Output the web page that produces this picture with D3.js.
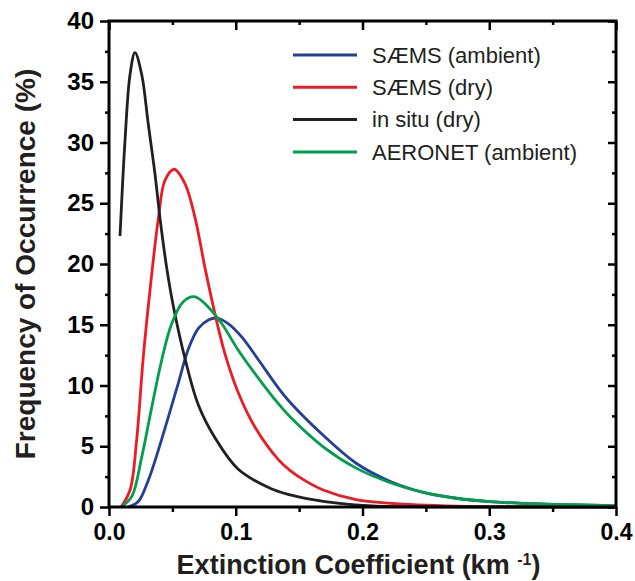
<meta charset="utf-8">
<style>
body { margin: 0; background: #fff; }
text { font-family: "Liberation Sans", Arial, sans-serif; fill: #231f20; }
.curve { fill: none; stroke-width: 2.8px; stroke-linejoin: round; }
</style>
<body>
<script src="https://d3js.org/d3.v7.js"></script>
<script>
// values
var seriesNames = ["SÆMS (ambient)", "SÆMS (dry)", "in situ (dry)", "AERONET (ambient)"];
var seriesColors = ["#233f99", "#ed1c24", "#231f20", "#00a04b"];

var blueX = [0.015, 0.0231, 0.031, 0.039, 0.0468, 0.0547, 0.0626, 0.0705, 0.0784, 0.085, 0.094, 0.1047, 0.118, 0.1336, 0.143, 0.169, 0.195, 0.222, 0.248, 0.274, 0.30, 0.34, 0.4];
var blueY = [0, 0.45, 2.2, 4.7, 7.4, 10.2, 13.0, 14.7, 15.4, 15.55, 15.1, 14.0, 12.1, 9.8, 8.6, 5.9, 3.6, 2.1, 1.2, 0.72, 0.45, 0.25, 0.1];

var redX = [0.0095, 0.0166, 0.0218, 0.027, 0.0323, 0.039, 0.0442, 0.0515, 0.060, 0.0679, 0.0757, 0.0836, 0.0915, 0.102, 0.115, 0.1336, 0.143, 0.155, 0.169, 0.195, 0.222, 0.274, 0.33, 0.4];
var redY = [0, 1.4, 5.5, 12.3, 17.8, 23.8, 26.9, 27.8, 26.6, 23.8, 19.7, 15.9, 12.6, 9.4, 6.6, 3.9, 3.0, 2.15, 1.4, 0.6, 0.3, 0.08, 0.02, 0];

var blackX = [0.0087, 0.0126, 0.0166, 0.0205, 0.0258, 0.031, 0.0363, 0.0402, 0.0455, 0.0508, 0.060, 0.0705, 0.0836, 0.102, 0.128, 0.143, 0.155, 0.182, 0.208, 0.25, 0.3, 0.4];
var blackY = [22.3, 30.1, 35.6, 37.4, 35.6, 31.5, 27.4, 23.8, 19.7, 16.5, 12.2, 8.4, 5.7, 3.1, 1.5, 1.0, 0.72, 0.3, 0.1, 0.02, 0, 0];

var greenX = [0.0095, 0.0179, 0.0258, 0.0337, 0.0416, 0.0495, 0.0586, 0.0679, 0.0784, 0.0889, 0.102, 0.115, 0.1336, 0.143, 0.169, 0.195, 0.222, 0.248, 0.274, 0.30, 0.34, 0.4];
var greenY = [0, 0.85, 4.1, 8.2, 12.1, 15.1, 16.9, 17.3, 16.45, 15.1, 12.9, 11.0, 8.5, 7.4, 4.95, 3.2, 2.0, 1.2, 0.72, 0.45, 0.25, 0.1];

var xMajor = [0, 0.1, 0.2, 0.3, 0.4];
var xMinor = [0.05, 0.15, 0.25, 0.35];
var yMajor = [0, 5, 10, 15, 20, 25, 30, 35, 40];
var yMinor = [2.5, 7.5, 12.5, 17.5, 22.5, 27.5, 32.5, 37.5];

var W = 635, H = 581;
var m = {left: 109, right: 616, top: 21, bottom: 507};

var svg = d3.select("body").append("svg")
    .attr("width", W)
    .attr("height", H);

var x = d3.scaleLinear().domain([0, 0.4]).range([m.left, m.right]);
var y = d3.scaleLinear().domain([0, 40]).range([m.bottom, m.top]);

var seriesData = [
  d3.zip(blueX, blueY),
  d3.zip(redX, redY),
  d3.zip(blackX, blackY),
  d3.zip(greenX, greenY)
];

var line = d3.line()
    .x(function(d) { return x(d[0]); })
    .y(function(d) { return y(d[1]); })
    .curve(d3.curveCatmullRom.alpha(0.5));

// draw order: blue, red, black, green
[0, 1, 2, 3].forEach(function(i) {
  svg.append("path")
      .datum(seriesData[i])
      .attr("class", "curve")
      .style("stroke", seriesColors[i])
      .attr("d", line);
});

// axes: major + minor ticks, outward on left/bottom, inward on top/right
function tickStyle(g) {
  g.select(".domain").remove();
  g.selectAll(".tick line").attr("stroke", "#000").attr("stroke-width", 2.5);
}

svg.append("g")
    .attr("transform", "translate(0," + m.bottom + ")")
    .call(d3.axisBottom(x).tickValues(xMajor).tickSize(9).tickPadding(8).tickFormat(d3.format(".1f")))
    .call(tickStyle)
    .selectAll("text")
      .style("font-size", "23px").style("font-weight", "bold").style("fill", "#000");

svg.append("g")
    .attr("transform", "translate(0," + m.bottom + ")")
    .call(d3.axisBottom(x).tickValues(xMinor).tickSize(5).tickFormat(""))
    .call(tickStyle);

svg.append("g")
    .attr("transform", "translate(" + m.left + ",0)")
    .call(d3.axisLeft(y).tickValues(yMajor).tickSize(9).tickPadding(6))
    .call(tickStyle)
    .selectAll("text")
      .style("font-size", "24px").style("font-weight", "bold").style("fill", "#000");

svg.append("g")
    .attr("transform", "translate(" + m.left + ",0)")
    .call(d3.axisLeft(y).tickValues(yMinor).tickSize(4).tickFormat(""))
    .call(tickStyle);

svg.append("g")
    .attr("transform", "translate(0," + m.top + ")")
    .call(d3.axisTop(x).tickValues(xMajor).tickSize(-9).tickFormat(""))
    .call(tickStyle);

svg.append("g")
    .attr("transform", "translate(0," + m.top + ")")
    .call(d3.axisTop(x).tickValues(xMinor).tickSize(-4).tickFormat(""))
    .call(tickStyle);

svg.append("g")
    .attr("transform", "translate(" + m.right + ",0)")
    .call(d3.axisRight(y).tickValues(yMajor).tickSize(-8).tickFormat(""))
    .call(tickStyle);

svg.append("g")
    .attr("transform", "translate(" + m.right + ",0)")
    .call(d3.axisRight(y).tickValues(yMinor).tickSize(-4).tickFormat(""))
    .call(tickStyle);

// frame
svg.append("rect")
    .attr("x", m.left)
    .attr("y", m.top)
    .attr("width", m.right - m.left)
    .attr("height", m.bottom - m.top)
    .attr("fill", "none")
    .attr("stroke", "#000")
    .attr("stroke-width", 3);

// axis titles
var xt = svg.append("text")
    .attr("x", (m.left + m.right) / 2 - 4)
    .attr("y", 574)
    .attr("text-anchor", "middle")
    .style("font-size", "27px")
    .style("font-weight", "bold");
xt.append("tspan").text("Extinction Coefficient (km ");
xt.append("tspan").attr("dy", -9).style("font-size", "16px").text("-1");
xt.append("tspan").attr("dy", 9).text(")");

svg.append("text")
    .attr("transform", "translate(35," + ((m.top + m.bottom) / 2) + ") rotate(-90)")
    .attr("text-anchor", "middle")
    .style("font-size", "28px")
    .style("font-weight", "bold")
    .text("Frequency of Occurrence (%)");

// legend
var legend = svg.append("g");
seriesNames.forEach(function(name, i) {
  var ly = 55 + i * 32.3;
  legend.append("line")
      .attr("x1", 293).attr("x2", 357)
      .attr("y1", ly).attr("y2", ly)
      .attr("stroke", seriesColors[i])
      .attr("stroke-width", 3);
  legend.append("text")
      .attr("x", 372)
      .attr("y", ly)
      .attr("dy", "0.35em")
      .style("font-size", "22px")
      .text(name);
});
</script>
</body>
